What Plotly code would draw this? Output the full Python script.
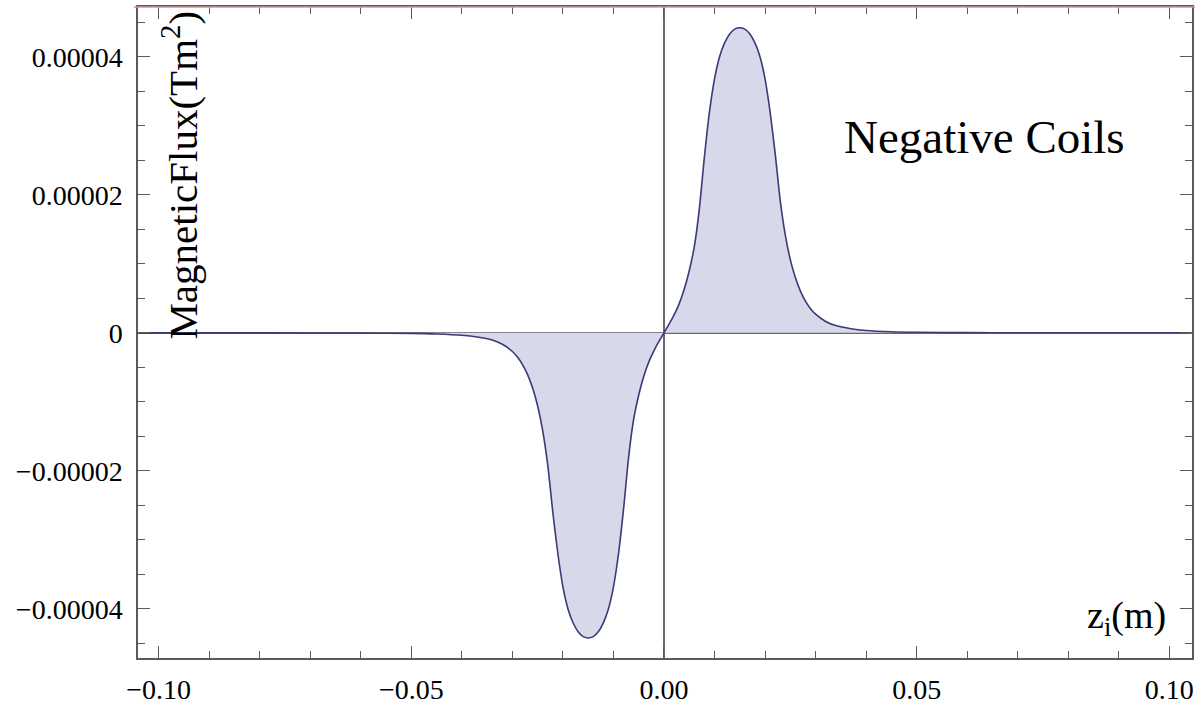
import plotly.graph_objects as go

# Flux through the coil vs. position z_i (m): negative lobe, then positive lobe
z_neg = [-0.104, -0.085, -0.070, -0.060, -0.050, -0.045, -0.040, -0.037, -0.034,
         -0.032, -0.030, -0.029, -0.028, -0.027, -0.026, -0.025, -0.024, -0.023,
         -0.022, -0.021, -0.020, -0.019, -0.018, -0.017, -0.016, -0.015, -0.014,
         -0.013, -0.012, -0.011, -0.010, -0.009, -0.008, -0.007, -0.006, -0.005,
         -0.004, -0.003, -0.002, -0.001]
flux_neg = [-3e-9, -6e-9, -1.5e-8, -3e-8, -8e-8, -1.6e-7, -3.5e-7, -6e-7, -1.05e-6,
            -1.65e-6, -2.7e-6, -3.5e-6, -4.6e-6, -6.05e-6, -8.0e-6, -1.06e-5, -1.42e-5,
            -1.92e-5, -2.60e-5, -3.20e-5, -3.68e-5, -4.00e-5, -4.20e-5, -4.33e-5,
            -4.40e-5, -4.42e-5, -4.40e-5, -4.33e-5, -4.20e-5, -4.00e-5, -3.68e-5,
            -3.20e-5, -2.55e-5, -1.80e-5, -1.25e-5, -9.0e-6, -6.3e-6, -4.2e-6,
            -2.6e-6, -1.25e-6]
z_pos = [0.0, 0.001, 0.002, 0.003, 0.004, 0.005, 0.006, 0.007, 0.008, 0.009, 0.010,
         0.011, 0.012, 0.013, 0.014, 0.015, 0.016, 0.017, 0.018, 0.019, 0.020, 0.021,
         0.022, 0.023, 0.024, 0.025, 0.026, 0.027, 0.028, 0.029, 0.030, 0.032, 0.034,
         0.037, 0.040, 0.045, 0.050, 0.060, 0.070, 0.085, 0.104]
flux_pos = [0.0, 1.25e-6, 2.6e-6, 4.2e-6, 6.3e-6, 9.0e-6, 1.25e-5, 1.80e-5, 2.55e-5,
            3.20e-5, 3.68e-5, 4.00e-5, 4.20e-5, 4.33e-5, 4.40e-5, 4.42e-5, 4.40e-5,
            4.33e-5, 4.20e-5, 4.00e-5, 3.68e-5, 3.20e-5, 2.60e-5, 1.92e-5, 1.42e-5,
            1.06e-5, 8.0e-6, 6.05e-6, 4.6e-6, 3.5e-6, 2.7e-6, 1.65e-6, 1.05e-6, 6e-7,
            3.5e-7, 1.6e-7, 8e-8, 3e-8, 1.5e-8, 6e-9, 3e-9]

x_ticks = [-0.10, -0.05, 0.0, 0.05, 0.10]
x_tick_text = ["\u22120.10", "\u22120.05", "0.00", "0.05", "0.10"]
y_ticks = [-0.00004, -0.00002, 0.0, 0.00002, 0.00004]
y_tick_text = ["\u22120.00004", "\u22120.00002", "0", "0.00002", "0.00004"]

SERIF = "Liberation Serif, Times New Roman, serif"
FRAME = "#5a5a5a"

z_all = z_neg + z_pos
flux_all = flux_neg + flux_pos

fig = go.Figure()
fig.add_trace(go.Scatter(
    x=z_all, y=flux_all, mode="lines",
    line=dict(color="rgb(58,58,120)", width=1.6, shape="spline", smoothing=0.6),
    fill="tozeroy", fillcolor="rgb(216,216,235)",
    hoverinfo="skip", showlegend=False,
))

axis_common = dict(
    showline=True, linecolor=FRAME, linewidth=1.5, mirror="allticks",
    ticks="inside", ticklen=12, tickwidth=1.2, tickcolor=FRAME,
    showgrid=False, zeroline=True, zerolinecolor="#6a6a6a", zerolinewidth=1.5,
    tickfont=dict(family=SERIF, size=28, color="black"), automargin=False,
)

fig.update_xaxes(
    range=[-0.1041, 0.1045], tickvals=x_ticks, ticktext=x_tick_text,
    minor=dict(dtick=0.01, ticks="inside", ticklen=7, tickwidth=1.2, tickcolor=FRAME),
    ticklabelstandoff=6, **axis_common,
)
fig.update_yaxes(
    range=[-4.71e-5, 4.72e-5], tickvals=y_ticks, ticktext=y_tick_text,
    minor=dict(dtick=0.000005, ticks="inside", ticklen=7, tickwidth=1.2, tickcolor=FRAME),
    ticklabelstandoff=8, **axis_common,
)

fig.add_shape(type="line", xref="paper", yref="paper", x0=-0.004, x1=1.003, y0=1, y1=1,
              line=dict(color="rgb(214,150,150)", width=1.5), layer="above")

fig.add_annotation(text="Negative Coils", xref="paper", yref="paper",
                   x=0.8036, y=0.800, xanchor="center", yanchor="middle", showarrow=False,
                   font=dict(family=SERIF, size=47, color="black"))
fig.add_annotation(text="z<sub>i</sub>(m)", xref="paper", yref="paper",
                   x=0.9374, y=0.0614, xanchor="center", yanchor="middle", showarrow=False,
                   font=dict(family=SERIF, size=38, color="black"))
fig.add_annotation(text="MagneticFlux(Tm<sup>2</sup>)", xref="paper", yref="paper",
                   x=0.0395, y=0.742, xanchor="center", yanchor="middle", showarrow=False,
                   textangle=-90, font=dict(family=SERIF, size=41, color="black"))

fig.update_layout(
    width=1203, height=705,
    margin=dict(l=138, r=11, t=7, b=47),
    paper_bgcolor="white", plot_bgcolor="white",
)

fig.write_html("out.html")
